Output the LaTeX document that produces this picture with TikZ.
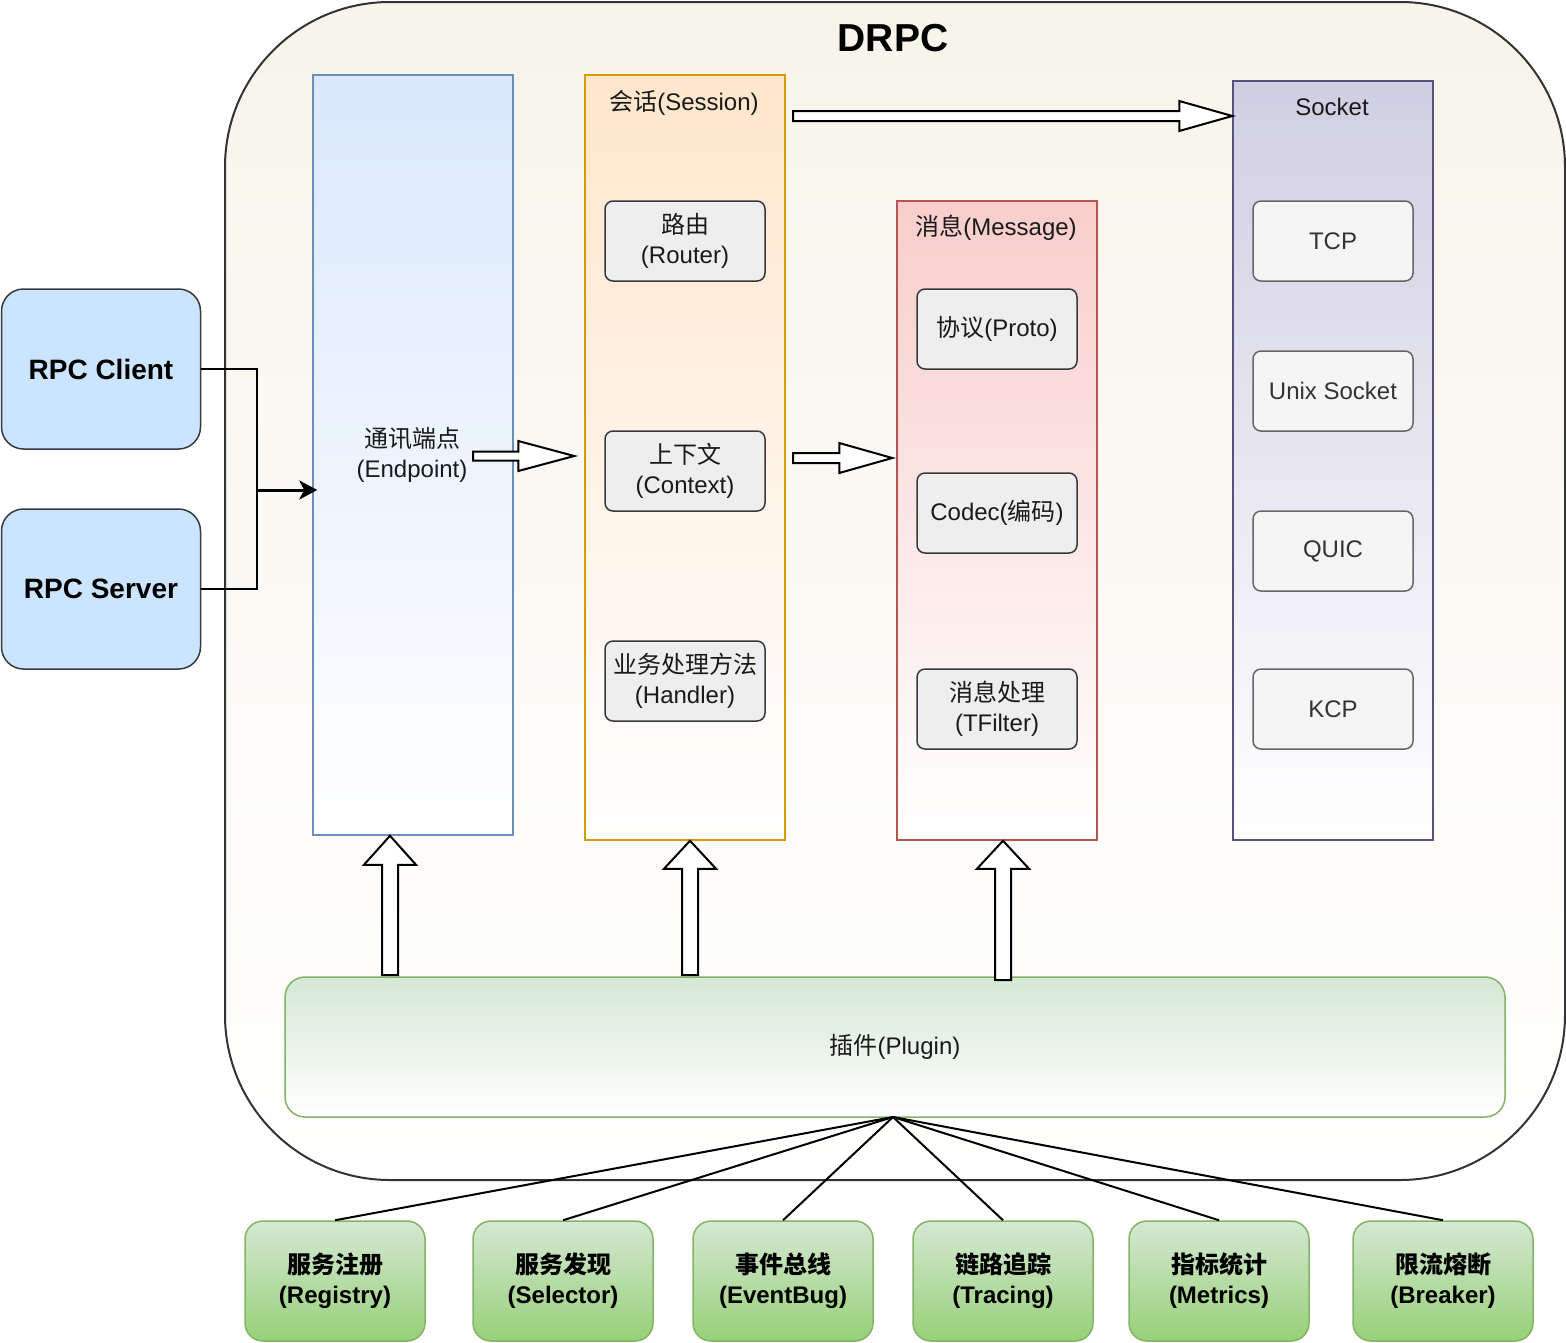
\documentclass[tikz,border=0pt]{standalone}
\usepackage{fontspec}
\setmainfont{Liberation Sans}
\newfontfamily\cjk{Noto Sans CJK SC}
\usetikzlibrary{arrows.meta,calc}
\definecolor{epline}{HTML}{6C8EBF}
\definecolor{epfill}{HTML}{DAE8FC}
\definecolor{ssline}{HTML}{D79B00}
\definecolor{ssfill}{HTML}{FFE6CC}
\definecolor{msline}{HTML}{B85450}
\definecolor{msfill}{HTML}{F8CECC}
\definecolor{skline}{HTML}{56517E}
\definecolor{skfill}{HTML}{D0CEE2}
\definecolor{plgline}{HTML}{82B366}
\definecolor{plgfill}{HTML}{D5E8D4}
\definecolor{botdark}{HTML}{97D077}
\definecolor{boxline}{HTML}{36393D}
\definecolor{boxfill}{HTML}{EEEEEE}
\definecolor{skbline}{HTML}{666666}
\definecolor{skbfill}{HTML}{F5F5F5}
\definecolor{sktxt}{HTML}{333333}
\definecolor{cli}{HTML}{CCE5FF}
\definecolor{bgtop}{HTML}{F7F4EA}
\definecolor{outl}{HTML}{333333}
\definecolor{txt}{HTML}{1A1A1A}
\newcommand{\blockR}[5]{%
  \draw[blk] let \p1=(#1), \p2=(#2) in
    (\x1,\y1+#5) -- (\x2-#3,\y1+#5) -- (\x2-#3,\y1+#4) -- (\x2,\y1)
    -- (\x2-#3,\y1-#4) -- (\x2-#3,\y1-#5) -- (\x1,\y1-#5) -- cycle;}
\newcommand{\blockU}[5]{%
  \draw[blk] let \p1=(#1), \p2=(#2) in
    (\x1-#5,\y1) -- (\x1-#5,\y2-#3) -- (\x1-#4,\y2-#3) -- (\x1,\y2)
    -- (\x1+#4,\y2-#3) -- (\x1+#5,\y2-#3) -- (\x1+#5,\y1) -- cycle;}
\begin{document}
\begin{tikzpicture}[x=1pt,y=-1pt,
  lbl/.style={font=\fontsize{24}{30}\selectfont, text=txt, align=center, inner sep=0pt},
  col/.style={rectangle, line width=1.5pt, minimum width=200pt, inner sep=0pt, bottom color=white},
  inbox/.style={rectangle, draw=boxline, fill=boxfill, line width=1.5pt, rounded corners=8pt,
    minimum width=160pt, minimum height=80pt, align=center, inner sep=0pt,
    font=\fontsize{24}{30}\selectfont, text=txt},
  skbox/.style={inbox, draw=skbline, fill=skbfill, text=sktxt},
  side/.style={rectangle, draw=boxline, fill=cli, line width=1.5pt, rounded corners=22pt,
    minimum width=199pt, minimum height=160pt, inner sep=0pt,
    font=\bfseries\fontsize{28}{34}\selectfont, text=black},
  bot/.style={rectangle, draw=plgline, top color=plgfill, bottom color=botdark, line width=1.5pt,
    rounded corners=18pt, minimum width=180pt, minimum height=120pt, inner sep=0pt, align=center,
    font=\bfseries\fontsize{24}{30}\selectfont, text=black},
  blk/.style={draw=black, fill=white, line width=2pt, line join=miter},
  conn/.style={draw=black, line width=2pt},
  fan/.style={draw=black, line width=2pt}
]
\useasboundingbox (0,0) rectangle (1566,1342);
% outer DRPC frame
\path[draw=outl, line width=2pt, top color=bgtop, bottom color=white, rounded corners=165pt]
  (225,2) rectangle (1565,1180);
\node[font=\bfseries\fontsize{39}{44}\selectfont, text=black] (title) at (893,38) {DRPC};

% columns
\node[col, draw=epline, top color=epfill, minimum height=760pt] (endp) at (413,455) {};
\node[lbl] (endpt) at (412,455) {{\cjk 通讯端点}\\(Endpoint)};

\node[col, draw=ssline, top color=ssfill, minimum height=765pt] (sess) at (685,457.5) {};
\node[lbl] (sesst) at (684,103) {{\cjk 会话}(Session)};
\node[inbox] (router) at (685,241) {{\cjk 路由}\\(Router)};
\node[inbox] (ctx) at (685,471) {{\cjk 上下文}\\(Context)};
\node[inbox] (handler) at (685,681) {{\cjk 业务处理方法}\\(Handler)};

\node[col, draw=msline, top color=msfill, minimum height=639pt] (msg) at (997,520.5) {};
\node[lbl] (msgt) at (996,228) {{\cjk 消息}(Message)};
\node[inbox] (proto) at (997,329) {{\cjk 协议}(Proto)};
\node[inbox] (codec) at (997,513) {Codec({\cjk 编码})};
\node[inbox] (tfilter) at (997,709) {{\cjk 消息处理}\\(TFilter)};

\node[col, draw=skline, top color=skfill, minimum height=759pt] (sock) at (1333,460.5) {};
\node[lbl] (sockt) at (1332,107) {Socket};
\node[skbox] (tcp) at (1333,241) {TCP};
\node[skbox] (unix) at (1333,391) {Unix Socket};
\node[skbox] (quic) at (1333,551) {QUIC};
\node[skbox] (kcp) at (1333,709) {KCP};

% client / server
\node[side] (client) at (101,369) {RPC Client};
\node[side] (server) at (101,589) {RPC Server};
\coordinate (j) at (257,490);
\draw[conn] (client.east) -| (j);
\draw[conn] (server.east) -| (j);
\draw[conn, line width=3pt, -{Stealth[length=18pt,width=19pt,inset=5pt]}] (j) -- ($(j -| endp.west)+(5,0)$);

% plugin
\node[rectangle, draw=plgline, top color=plgfill, bottom color=white, line width=1.5pt,
  rounded corners=20pt, minimum width=1220pt, minimum height=140pt, lbl] (plugin) at (895,1047)
  {{\cjk 插件}(Plugin)};

% bottom plugins
\node[bot] (b1) at (335,1281) {{\cjk 服务注册}\\(Registry)};
\node[bot] (b2) at (563,1281) {{\cjk 服务发现}\\(Selector)};
\node[bot] (b3) at (783,1281) {{\cjk 事件总线}\\(EventBug)};
\node[bot] (b4) at (1003,1281) {{\cjk 链路追踪}\\(Tracing)};
\node[bot] (b5) at (1219,1281) {{\cjk 指标统计}\\(Metrics)};
\node[bot] (b6) at (1443,1281) {{\cjk 限流熔断}\\(Breaker)};
\coordinate (fanc) at (893,1117);
\foreach \b in {b1,b2,b3,b4,b5,b6} \draw[fan] (fanc) -- (\b.north);

% block arrows (horizontal)
\coordinate (h1s) at (473,456);
\coordinate (h1e) at ($(h1s -| sess.west)+(-10,0)$);
\blockR{h1s}{h1e}{56pt}{15pt}{4.5pt}
\coordinate (h2s) at (793,458);
\coordinate (h2e) at ($(h2s -| msg.west)+(-4,0)$);
\blockR{h2s}{h2e}{53pt}{15pt}{5pt}
\coordinate (h3s) at (793,116);
\coordinate (h3e) at (h3s -| sock.west);
\blockR{h3s}{h3e}{53pt}{15pt}{5pt}

% block arrows (vertical, from plugin)
\coordinate (u1b) at (390,975);
\coordinate (u1t) at (u1b |- endp.south);
\blockU{u1b}{u1t}{29pt}{26pt}{8pt}
\coordinate (u2b) at (690,975);
\coordinate (u2t) at (u2b |- sess.south);
\blockU{u2b}{u2t}{28pt}{26pt}{8pt}
\coordinate (u3b) at (1003,980);
\coordinate (u3t) at (u3b |- msg.south);
\blockU{u3b}{u3t}{28pt}{26pt}{8pt}
\end{tikzpicture}
\end{document}
